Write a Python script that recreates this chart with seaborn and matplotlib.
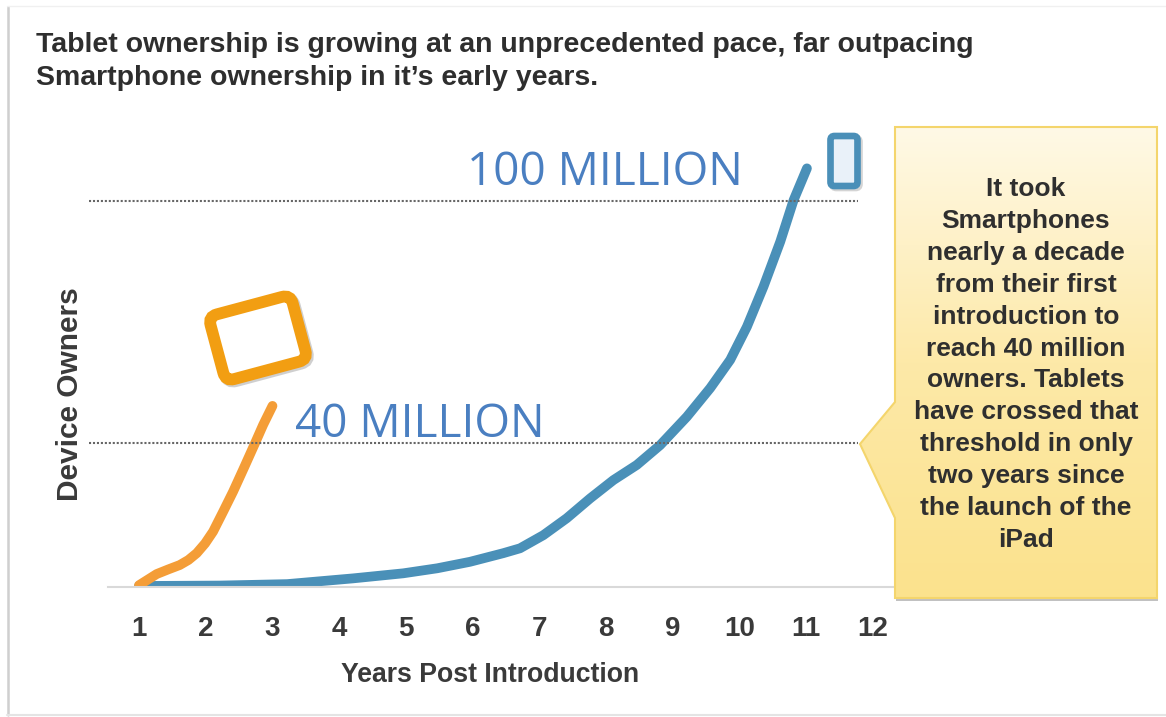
import numpy as np
import pandas as pd
import matplotlib
matplotlib.use("Agg")
import matplotlib.pyplot as plt
from matplotlib.patches import FancyBboxPatch, Polygon
from matplotlib.transforms import Affine2D
import seaborn as sns

# Device owners in millions, by years since each product's introduction
smartphone_years = [1, 1.21, 2.21, 3.22, 4.21, 4.96, 5.47, 5.96, 6.46, 6.71, 7.06, 7.41, 7.76, 8.11,
                    8.46, 8.81, 9.21, 9.56, 9.86, 10.11, 10.36, 10.61, 10.81, 11.01]
smartphone_owners = [0.3, 0.3, 0.4, 0.8, 2.4, 3.8, 5.2, 7.0, 9.4, 10.75, 14.4, 19.1, 24.6, 29.7,
                     33.9, 39.4, 46.5, 53.6, 60.6, 68.8, 78.8, 89.9, 100.2, 108.1]
tablet_years = [1.0, 1.265, 1.44, 1.61, 1.74, 1.865, 1.99, 2.11, 2.26, 2.41, 2.57, 2.74, 2.86, 3.0]
tablet_owners = [0.5, 3.6, 4.9, 6.1, 7.5, 9.4, 12.1, 15.4, 20.9, 26.5, 33, 40, 44.5, 49.2]
milestones = [40, 100]
milestone_labels = ["40 MILLION", "100 MILLION"]
year_ticks = list(range(1, 13))

title_lines = ["Tablet ownership is growing at an unprecedented pace, far outpacing",
               "Smartphone ownership in it\u2019s early years."]
callout_lines = ["It took", "Smartphones", "nearly a decade", "from their first",
                 "introduction to", "reach 40 million", "owners. Tablets",
                 "have crossed that", "threshold in only", "two years since",
                 "the launch of the", "iPad"]

W, H = 1166, 717
sns.set_theme(style="white")
plt.rcParams["font.family"] = ["Liberation Sans", "DejaVu Sans"]
INK = "#3a3a3a"
BLUE = "#4a90b8"
ORANGE = "#f49d37"
LABEL_BLUE = "#4a7fc1"

fig = plt.figure(figsize=(W / 100, H / 100), dpi=100, facecolor="white")

# Chart axes; the vertical scale is stretched above the 40 million level
ax = fig.add_axes([108 / W, 1 - 587 / H, 785 / W, 467 / H])
value_knots = [-50, 0, 40, 100, 200]
height_knots = [-180, 0, 144, 386, 789]
ax.set_yscale("function", functions=(
    lambda v: np.interp(v, value_knots, height_knots),
    lambda h: np.interp(h, height_knots, value_knots)))

smartphones = pd.DataFrame({"year": smartphone_years, "owners": smartphone_owners})
tablets = pd.DataFrame({"year": tablet_years, "owners": tablet_owners})
line_style = dict(linewidth=7, solid_capstyle="round", solid_joinstyle="round",
                  estimator=None, sort=False, ax=ax)
sns.lineplot(data=smartphones, x="year", y="owners", color=BLUE, **line_style)
sns.lineplot(data=tablets, x="year", y="owners", color=ORANGE, **line_style)

ax.set_xlim(0.535, 12.3)
ax.set_ylim(0, 120.1)
ax.hlines(milestones, 0.25, 11.78, colors="#666666", linewidth=1.5,
          linestyles=(0, (1, 0.9)), clip_on=False, zorder=3)

for side in ("top", "left", "right"):
    ax.spines[side].set_visible(False)
ax.spines["bottom"].set_color("#d9d9d9")
ax.spines["bottom"].set_linewidth(1.5)
ax.set_yticks([])
ax.set_xticks(year_ticks)
ax.tick_params(axis="x", length=0, pad=21, labelsize=20, labelcolor=INK)
for tick in ax.get_xticklabels():
    tick.set_fontweight("bold")
ax.set_xlabel("")
ax.set_ylabel("")

# Overlay in pixel units for the frame, captions, icons and callout
over = fig.add_axes([0, 0, 1, 1], facecolor="none")
over.set_xlim(0, W)
over.set_ylim(H, 0)
over.axis("off")

over.plot([7.5, 7.5], [7, 715], color="#cfcfcf", lw=1.8)
over.plot([7, 1166], [6, 6], color="#f0f0f0", lw=1)
over.plot([7, 1166], [715, 715], color="#e4e4e4", lw=1.5)

over.text(36, 45, title_lines[0], fontsize=20.5, fontweight="bold", color="#2e2e2e", va="center")
over.text(36, 78, title_lines[1], fontsize=20.5, fontweight="bold", color="#2e2e2e", va="center")
over.text(490, 675, "Years Post Introduction", fontsize=19.2, fontweight="bold", color=INK,
          ha="center", va="center")
over.text(70, 394, "Device Owners", fontsize=21.5, fontweight="bold", color=INK, rotation=90,
          ha="center", va="center")

over.text(420, 425, milestone_labels[0], color=LABEL_BLUE, fontsize=33,
          family="Open Sans", ha="center", va="center")
over.text(605, 173, milestone_labels[1], color=LABEL_BLUE, fontsize=33,
          family="Open Sans", ha="center", va="center")

# Tablet icon, tilted, with a soft shadow
def rounded(cx, cy, w, h, r, angle=0, **kw):
    patch = FancyBboxPatch((cx - w / 2, cy - h / 2), w, h,
                           boxstyle=f"round,pad=0,rounding_size={r}", **kw)
    patch.set_transform(Affine2D().rotate_deg_around(cx, cy, angle) + over.transData)
    over.add_patch(patch)
    return patch

rounded(260, 340, 85, 67, 9, -15, fc="none", ec="#555555", lw=8.5, alpha=0.28)
rounded(258, 338, 85, 67, 9, -15, fc="white", ec="#f29e12", lw=8.5)

# Phone icon
rounded(846, 163, 27, 50, 4, 0, fc="none", ec="#555555", lw=4.8, alpha=0.25)
rounded(844, 161, 27, 50, 4, 0, fc="#e9f1f9", ec="#4a8fb8", lw=4.8)

# Callout box with vertical gradient and a pointer toward the 40 million line
outline = [(895, 127), (1157, 127), (1157, 598), (895, 598), (895, 518), (860, 444), (895, 402)]
over.add_patch(Polygon([(x + 1, y + 3) for x, y in outline], closed=True, fc="#777777",
                       ec="none", alpha=0.45))
shape = Polygon(outline, closed=True, fc="none", ec="#f4d56c", lw=1.5, zorder=3)
over.add_patch(shape)
ramp = np.linspace(0, 1, 256).reshape(-1, 1)
cmap = matplotlib.colors.LinearSegmentedColormap.from_list("callout", ["#fff9e6", "#fde9a8", "#fbe28d"])
image = over.imshow(ramp, extent=(860, 1157, 598, 127), cmap=cmap, aspect="auto", zorder=2)
image.set_clip_path(Polygon(outline, closed=True, transform=over.transData))
over.set_xlim(0, W)
over.set_ylim(H, 0)

for i, line in enumerate(callout_lines):
    over.text(1026, 189 + i * 31.9, line, fontsize=19, fontweight="bold", color="#2f2f2f",
              ha="center", va="center", zorder=4)

fig.savefig("out.png", dpi=100, facecolor="white")
